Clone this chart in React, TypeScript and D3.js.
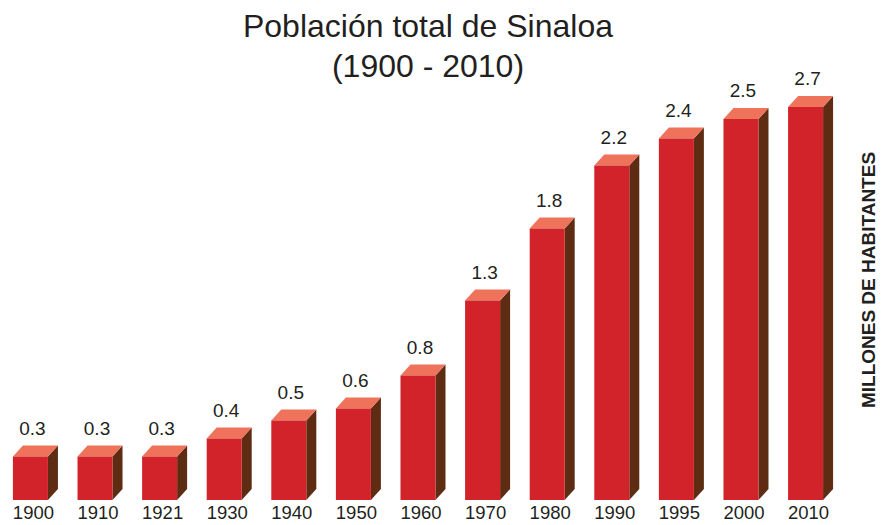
import { useEffect, useRef } from "react";
import * as d3 from "d3";

// years on the x axis
const years = ["1900", "1910", "1921", "1930", "1940", "1950", "1960", "1970", "1980", "1990", "1995", "2000", "2010"];
// bar heights (millions of inhabitants)
const values = [0.29, 0.29, 0.29, 0.41, 0.53, 0.61, 0.83, 1.33, 1.81, 2.23, 2.41, 2.54, 2.62];
// labels printed above each bar
const labels = ["0.3", "0.3", "0.3", "0.4", "0.5", "0.6", "0.8", "1.3", "1.8", "2.2", "2.4", "2.5", "2.7"];

const App = () => {
  const svgRef = useRef<SVGSVGElement>(null);

  useEffect(() => {
    const width = 886;
    const height = 525;
    const svg = d3.select(svgRef.current);
    svg.selectAll("*").remove();

    const font = "'Liberation Sans', Arial, sans-serif";
    const depthX = 10;
    const depthY = 11;

    const x = d3
      .scaleBand()
      .domain(years)
      .range([0, 836])
      .paddingInner(0.458)
      .paddingOuter(0.2);

    const y = d3.scaleLinear().domain([0, 3]).range([500, 50]);

    const data = years.map((year, i) => ({ year, value: values[i], label: labels[i] }));
    const bw = x.bandwidth();

    const bars = svg.append("g").selectAll("g").data(data).enter().append("g");

    // right side face
    bars
      .append("path")
      .attr("fill", "#5E2C12")
      .attr("d", (d) => {
        const x1 = x(d.year)! + bw;
        const top = y(d.value);
        const bottom = y(0);
        return `M${x1},${top}L${x1 + depthX},${top - depthY}L${x1 + depthX},${bottom - depthY}L${x1},${bottom}Z`;
      });

    // top face
    bars
      .append("path")
      .attr("fill", "#EE735A")
      .attr("d", (d) => {
        const x0 = x(d.year)!;
        const top = y(d.value);
        return `M${x0},${top}L${x0 + depthX},${top - depthY}L${x0 + bw + depthX},${top - depthY}L${x0 + bw},${top}Z`;
      });

    // front face
    bars
      .append("rect")
      .attr("fill", "#D2232A")
      .attr("x", (d) => x(d.year)!)
      .attr("y", (d) => y(d.value))
      .attr("width", bw)
      .attr("height", (d) => y(0) - y(d.value));

    // value labels
    bars
      .append("text")
      .attr("x", (d) => x(d.year)! + bw / 2 + 2)
      .attr("y", (d) => y(d.value) - depthY - 11)
      .attr("text-anchor", "middle")
      .style("font-family", font)
      .style("font-size", "19px")
      .style("fill", "#231F20")
      .text((d) => d.label);

    // year labels
    svg
      .append("g")
      .selectAll("text")
      .data(years)
      .enter()
      .append("text")
      .attr("x", (d) => x(d)! + bw / 2 + 3)
      .attr("y", 519)
      .attr("text-anchor", "middle")
      .style("font-family", font)
      .style("font-size", "18.5px")
      .style("fill", "#231F20")
      .text((d) => d);

    // title
    const title = svg
      .append("text")
      .attr("text-anchor", "middle")
      .style("font-family", font)
      .style("font-size", "32px")
      .style("fill", "#231F20");
    title.append("tspan").attr("x", 428).attr("y", 37).text("Población total de Sinaloa");
    title.append("tspan").attr("x", 428).attr("y", 77).text("(1900 - 2010)");

    // axis title on the right
    svg
      .append("text")
      .attr("transform", `translate(875, 280) rotate(-90)`)
      .attr("text-anchor", "middle")
      .style("font-family", font)
      .style("font-size", "19px")
      .style("font-weight", "bold")
      .style("fill", "#231F20")
      .text("MILLONES DE HABITANTES");

    svg.attr("width", width).attr("height", height);
  }, []);

  return (
    <div style={{ position: "fixed", left: 0, top: 0, background: "#fff" }}>
      <svg ref={svgRef} style={{ display: "block" }}></svg>
    </div>
  );
};

export default App;
